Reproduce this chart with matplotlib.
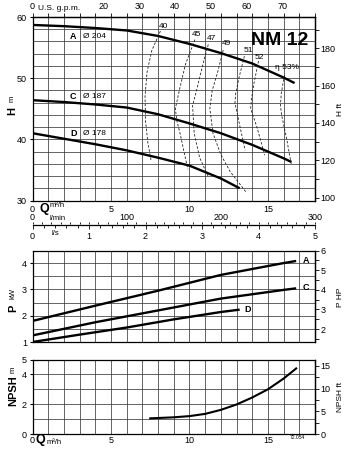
import matplotlib
matplotlib.use('Agg')
import matplotlib.pyplot as plt
from matplotlib.ticker import MultipleLocator, FixedLocator
import numpy as np

plt.rcParams['font.family'] = ['Liberation Sans', 'DejaVu Sans']
plt.rcParams['font.size'] = 6.5

# ---------------- data ----------------
# Head curves (Q m3/h, H m)
q_A = [0, 2, 4, 6, 8, 10, 12, 14, 16, 16.7]
h_A = [58.7, 58.5, 58.2, 57.8, 56.9, 55.6, 54.1, 52.4, 50.1, 49.2]
q_C = [0, 2, 4, 6, 8, 10, 12, 14, 16, 16.5]
h_C = [46.4, 46.1, 45.7, 45.2, 44.1, 42.6, 41.0, 39.1, 36.9, 36.3]
q_D = [0, 2, 4, 6, 8, 10, 12, 13.2]
h_D = [41.0, 40.1, 39.2, 38.2, 37.0, 35.7, 33.6, 32.0]
imp_names = ['A', 'C', 'D']
imp_diams = ['Ø 204', 'Ø 187', 'Ø 178']

# Iso-efficiency curves
eff_labels = ['40', '45', '47', '49', '51', '52', 'η 53%']
q_e40 = [8.15, 7.6, 7.3, 7.17, 7.2, 7.35, 7.55]
h_e40 = [57.7, 54.5, 51.0, 47.0, 43.0, 39.5, 36.6]
q_e45 = [10.35, 9.75, 9.4, 9.1, 9.2, 9.4, 9.65, 9.9]
h_e45 = [56.3, 52.3, 48.5, 45.0, 43.0, 41.0, 38.0, 35.1]
q_e47 = [11.2, 10.85, 10.5, 10.2, 10.3, 10.65, 11.2]
h_e47 = [55.5, 52.2, 48.5, 45.5, 41.0, 37.0, 33.9]
q_e49 = [12.15, 11.8, 11.45, 11.3, 11.5, 12.0, 12.6, 13.6]
h_e49 = [54.6, 51.0, 48.0, 45.0, 41.0, 37.5, 34.7, 31.4]
q_e51 = [13.5, 13.15, 12.95, 12.9, 13.2, 13.55]
h_e51 = [53.6, 50.0, 47.5, 46.0, 42.3, 38.2]
q_e52 = [14.4, 14.1, 13.95, 13.9, 14.3, 14.8]
h_e52 = [52.8, 49.0, 46.5, 45.0, 42.0, 37.4]
q_e53 = [16.05, 15.85, 15.8, 15.87, 16.2, 16.5]
h_e53 = [50.5, 47.5, 45.5, 44.0, 40.0, 35.8]

# Power curves (Q m3/h, P kW)
q_PA = [0, 4, 8, 12, 16, 16.8]
p_A = [1.8, 2.38, 2.95, 3.55, 4.0, 4.08]
q_PC = [0, 4, 8, 12, 16, 16.8]
p_C = [1.25, 1.75, 2.2, 2.65, 2.98, 3.04]
q_PD = [0, 3, 6, 9, 12, 13.2]
p_D = [1.0, 1.28, 1.55, 1.86, 2.14, 2.23]

# NPSH curve (Q m3/h, NPSH m)
q_N = [7.5, 9, 10, 11, 12, 13, 14, 15, 16, 16.8]
npsh = [1.05, 1.12, 1.2, 1.35, 1.62, 1.98, 2.45, 3.0, 3.72, 4.4]

gpm_ticks = [0, 20, 30, 40, 50, 60, 70]
ft_ticks = [100, 120, 140, 160, 180]
hp_ticks = [2, 3, 4, 5, 6]
npshft_ticks = [0, 5, 10, 15]
q_ticks = [0, 5, 10, 15]

# ---------------- layout ----------------
W, Hh = 347, 449
fig = plt.figure(figsize=(W / 100, Hh / 100), dpi=100)


def fx(px):
    return px / W


def fy(py):
    return 1 - py / Hh


L, R = 32.5, 315
GRID = dict(color='#3a3a3a', lw=0.55)
CURVE = dict(color='black', lw=1.7, solid_capstyle='butt')


def style(ax):
    for s in ax.spines.values():
        s.set_linewidth(0.9)
    ax.xaxis.set_minor_locator(MultipleLocator(1))
    ax.grid(True, which='both', **GRID)
    ax.set_axisbelow(True)


# ---- head panel ----
axh = fig.add_axes([fx(L), fy(200.5), fx(R - L), (200.5 - 17) / Hh])
axh.set_xlim(0, 18)
axh.set_ylim(30, 60)
axh.yaxis.set_major_locator(MultipleLocator(10))
axh.yaxis.set_minor_locator(MultipleLocator(2))
axh.xaxis.set_major_locator(FixedLocator(q_ticks))
style(axh)
axh.tick_params(axis='x', which='both', top=True, bottom=False, direction='out',
                length=3, width=0.6, pad=0, labelsize=6.5)
axh.tick_params(axis='y', which='major', length=2, pad=2, labelsize=6.5)
axh.tick_params(axis='y', which='minor', length=0)

for q, h in [(q_A, h_A), (q_C, h_C), (q_D, h_D)]:
    axh.plot(q, h, **CURVE)
eff_curves = [(q_e40, h_e40), (q_e45, h_e45), (q_e47, h_e47), (q_e49, h_e49),
              (q_e51, h_e51), (q_e52, h_e52), (q_e53, h_e53)]
for q, h in eff_curves:
    axh.plot(q, h, color='#222222', lw=0.6, dashes=(3, 2))

eff_label_pos = [(8.33, 58.4), (10.46, 57.2), (11.4, 56.5), (12.37, 55.7),
                 (13.75, 54.6), (14.44, 53.35), (16.2, 51.8)]
for lab, (x, y) in zip(eff_labels, eff_label_pos):
    axh.text(x, y, lab, fontsize=6, ha='center', va='center')

imp_label_pos = [(2.6, 56.8), (2.6, 47.0), (2.6, 41.0)]
for n, d, (x, y) in zip(imp_names, imp_diams, imp_label_pos):
    axh.text(x, y, n, fontsize=6.5, fontweight='bold', ha='center', va='center')
    axh.text(x + 0.6, y, d, fontsize=6, ha='left', va='center')

axh.text(0.875, 0.87, 'NM 12', transform=axh.transAxes, fontsize=14,
         fontweight='bold', ha='center', va='center')

# right ft axis
axft = axh.secondary_yaxis('right', functions=(lambda m: m * 3.28084, lambda f: f / 3.28084))
axft.yaxis.set_major_locator(FixedLocator(ft_ticks))
axft.yaxis.set_minor_locator(MultipleLocator(10))
axft.tick_params(which='major', length=3, width=0.6, pad=1, labelsize=6.5)
axft.tick_params(which='minor', length=3, width=0.6)
axft.spines['right'].set_linewidth(0.9)

# top gpm axis
axg = axh.secondary_xaxis('top', functions=(lambda q: q * 4.4029, lambda g: g / 4.4029))
axg.xaxis.set_major_locator(FixedLocator(gpm_ticks))
axg.tick_params(length=0, pad=4, labelsize=6.5)
axg.spines['top'].set_linewidth(0.9)
fig.text(fx(38), fy(8), 'U.S. g.p.m.', fontsize=6, ha='left', va='center')

# Q label under head panel
fig.text(fx(44.5), fy(209.5), 'Q', fontsize=9, fontweight='bold', ha='center', va='center')
fig.text(fx(50), fy(205.5), 'm³/h', fontsize=5.5, ha='left', va='center')

# ---- l/min and l/s axis ----
axf = fig.add_axes([fx(L), fy(224.5), fx(R - L), 1e-5])
axs = axf.twiny()
axf.set_xlim(0, 300)
axf.set_yticks([])
for s in ['left', 'right', 'top']:
    axf.spines[s].set_visible(False)
axf.spines['bottom'].set_linewidth(0.9)
axf.patch.set_visible(False)
axf.xaxis.set_major_locator(FixedLocator([0, 100, 200, 300]))
axf.xaxis.set_minor_locator(MultipleLocator(10))
axf.tick_params(axis='x', which='both', bottom=False, labelbottom=False,
                top=True, labeltop=True, direction='out')
axf.tick_params(axis='x', which='major', length=1.6, width=0.6, pad=0.2, labelsize=6.5)
axf.tick_params(axis='x', which='minor', length=1.6, width=0.6)

axs.set_xlim(0, 5)
for s in axs.spines.values():
    s.set_visible(False)
axs.patch.set_visible(False)
axs.xaxis.set_major_locator(MultipleLocator(1))
axs.xaxis.set_minor_locator(MultipleLocator(0.2))
axs.tick_params(axis='x', which='both', top=False, labeltop=False,
                bottom=True, labelbottom=True, direction='out')
axs.tick_params(axis='x', which='major', length=3, width=0.6, pad=2.2, labelsize=6.5)
axs.tick_params(axis='x', which='minor', length=2, width=0.6)
fig.text(fx(50), fy(218.5), 'l/min', fontsize=5.5, ha='left', va='center')
fig.text(fx(52), fy(234), 'l/s', fontsize=5.5, ha='left', va='center')

# ---- power panel ----
axp = fig.add_axes([fx(L), fy(342), fx(R - L), (342 - 250.6) / Hh])
axp.set_xlim(0, 18)
axp.set_ylim(1, 6 * 0.7457)
axp.yaxis.set_major_locator(MultipleLocator(1))
axp.yaxis.set_minor_locator(MultipleLocator(0.5))
style(axp)
axp.tick_params(axis='x', which='both', length=0, labelbottom=False)
axp.tick_params(axis='y', which='major', length=2, pad=2, labelsize=6.5)
axp.tick_params(axis='y', which='minor', length=0)
for q, p in [(q_PA, p_A), (q_PC, p_C), (q_PD, p_D)]:
    axp.plot(q, p, **CURVE)
for n, (x, y) in zip(imp_names, [(17.4, 4.1), (17.4, 3.09), (13.7, 2.22)]):
    axp.text(x, y, n, fontsize=6.5, fontweight='bold', ha='center', va='center')
axhp = axp.secondary_yaxis('right', functions=(lambda k: k / 0.7457, lambda hp: hp * 0.7457))
axhp.yaxis.set_major_locator(FixedLocator(hp_ticks))
axhp.yaxis.set_minor_locator(MultipleLocator(0.5))
axhp.tick_params(which='major', length=3, width=0.6, pad=1, labelsize=6.5)
axhp.tick_params(which='minor', length=3, width=0.6)
axhp.spines['right'].set_linewidth(0.9)

# ---- NPSH panel ----
axn = fig.add_axes([fx(L), fy(434), fx(R - L), (434 - 359.5) / Hh])
axn.set_xlim(0, 18)
axn.set_ylim(0, 5)
axn.yaxis.set_major_locator(FixedLocator([0, 2, 4, 5]))
axn.yaxis.set_minor_locator(MultipleLocator(1))
axn.xaxis.set_major_locator(FixedLocator(q_ticks))
style(axn)
axn.tick_params(axis='x', which='both', length=0, pad=1.5, labelsize=6.5)
axn.tick_params(axis='y', which='major', length=2, pad=2, labelsize=6.5)
axn.tick_params(axis='y', which='minor', length=0)
axn.plot(q_N, npsh, color='black', lw=1.5)
axnf = axn.secondary_yaxis('right', functions=(lambda m: m * 3.28084, lambda f: f / 3.28084))
axnf.yaxis.set_major_locator(FixedLocator(npshft_ticks))
axnf.yaxis.set_minor_locator(MultipleLocator(2.5))
axnf.tick_params(which='major', length=3, width=0.6, pad=1, labelsize=6.5)
axnf.tick_params(which='minor', length=3, width=0.6)
axnf.spines['right'].set_linewidth(0.9)
fig.text(fx(40.5), fy(440.5), 'Q', fontsize=9, fontweight='bold', ha='center', va='center')
fig.text(fx(47), fy(442), 'm³/h', fontsize=5.5, ha='left', va='center')
fig.text(fx(297), fy(437.5), '72.054', fontsize=3.6, ha='center', va='center')

# ---- axis titles ----
fig.text(fx(12), fy(111), 'H', fontsize=8, fontweight='bold', rotation=90, ha='center', va='center')
fig.text(fx(12), fy(98.5), 'm', fontsize=5.5, rotation=90, ha='center', va='center')
fig.text(fx(340), fy(109), 'H ft', fontsize=6, rotation=90, ha='center', va='center')
fig.text(fx(13), fy(308), 'P', fontsize=8, fontweight='bold', rotation=90, ha='center', va='center')
fig.text(fx(13), fy(293), 'kW', fontsize=5.5, rotation=90, ha='center', va='center')
fig.text(fx(340), fy(297), 'P HP', fontsize=6, rotation=90, ha='center', va='center')
fig.text(fx(13), fy(391), 'NPSH', fontsize=8, fontweight='bold', rotation=90, ha='center', va='center')
fig.text(fx(13), fy(370), 'm', fontsize=5.5, rotation=90, ha='center', va='center')
fig.text(fx(340), fy(397), 'NPSH ft', fontsize=6, rotation=90, ha='center', va='center')

fig.savefig('out.png', dpi=100)
